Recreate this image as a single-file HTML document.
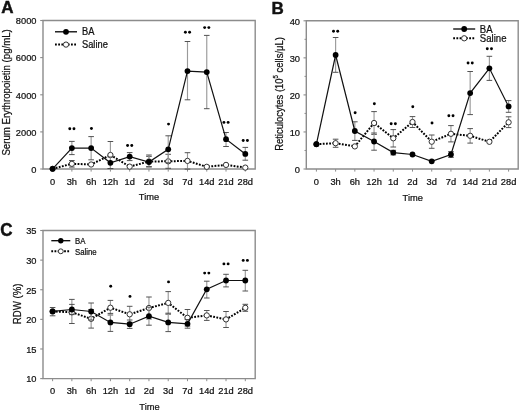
<!DOCTYPE html>
<html><head><meta charset="utf-8"><style>
html,body{margin:0;padding:0;background:#fff;}
svg{display:block;will-change:transform;}
text{font-family:"Liberation Sans", sans-serif;fill:#111;stroke:#111;stroke-width:0.22;}
</style></head><body>
<svg width="520" height="411" viewBox="0 0 520 411">
<rect width="520" height="411" fill="#fff"/>
<text transform="translate(1.30 13.35) scale(1.0 1.0)" font-size="17" font-weight="bold" style="stroke-width:0.45">A</text>
<path d="M43 20.5H255.2V169H43Z" fill="none" stroke="#8c8c8c" stroke-width="1.4"/>
<line x1="40.2" y1="169.00" x2="43" y2="169.00" stroke="#8c8c8c" stroke-width="1.1"/>
<text transform="translate(36.50 172.80) scale(1.0 1.04)" font-size="9.3" text-anchor="end">0</text>
<line x1="40.2" y1="131.90" x2="43" y2="131.90" stroke="#8c8c8c" stroke-width="1.1"/>
<text transform="translate(36.50 135.70) scale(1.0 1.04)" font-size="9.3" text-anchor="end">2000</text>
<line x1="40.2" y1="94.80" x2="43" y2="94.80" stroke="#8c8c8c" stroke-width="1.1"/>
<text transform="translate(36.50 98.60) scale(1.0 1.04)" font-size="9.3" text-anchor="end">4000</text>
<line x1="40.2" y1="57.60" x2="43" y2="57.60" stroke="#8c8c8c" stroke-width="1.1"/>
<text transform="translate(36.50 61.40) scale(1.0 1.04)" font-size="9.3" text-anchor="end">6000</text>
<line x1="40.2" y1="20.50" x2="43" y2="20.50" stroke="#8c8c8c" stroke-width="1.1"/>
<text transform="translate(36.50 24.30) scale(1.0 1.04)" font-size="9.3" text-anchor="end">8000</text>
<line x1="52.60" y1="169" x2="52.60" y2="171.6" stroke="#8c8c8c" stroke-width="1"/>
<text transform="translate(52.60 184.50) scale(1.0 1.02)" font-size="9.3" text-anchor="middle">0</text>
<line x1="71.87" y1="169" x2="71.87" y2="171.6" stroke="#8c8c8c" stroke-width="1"/>
<text transform="translate(71.87 184.50) scale(1.0 1.02)" font-size="9.3" text-anchor="middle">3h</text>
<line x1="91.14" y1="169" x2="91.14" y2="171.6" stroke="#8c8c8c" stroke-width="1"/>
<text transform="translate(91.14 184.50) scale(1.0 1.02)" font-size="9.3" text-anchor="middle">6h</text>
<line x1="110.41" y1="169" x2="110.41" y2="171.6" stroke="#8c8c8c" stroke-width="1"/>
<text transform="translate(110.41 184.50) scale(1.0 1.02)" font-size="9.3" text-anchor="middle">12h</text>
<line x1="129.68" y1="169" x2="129.68" y2="171.6" stroke="#8c8c8c" stroke-width="1"/>
<text transform="translate(129.68 184.50) scale(1.0 1.02)" font-size="9.3" text-anchor="middle">1d</text>
<line x1="148.95" y1="169" x2="148.95" y2="171.6" stroke="#8c8c8c" stroke-width="1"/>
<text transform="translate(148.95 184.50) scale(1.0 1.02)" font-size="9.3" text-anchor="middle">2d</text>
<line x1="168.22" y1="169" x2="168.22" y2="171.6" stroke="#8c8c8c" stroke-width="1"/>
<text transform="translate(168.22 184.50) scale(1.0 1.02)" font-size="9.3" text-anchor="middle">3d</text>
<line x1="187.49" y1="169" x2="187.49" y2="171.6" stroke="#8c8c8c" stroke-width="1"/>
<text transform="translate(187.49 184.50) scale(1.0 1.02)" font-size="9.3" text-anchor="middle">7d</text>
<line x1="206.76" y1="169" x2="206.76" y2="171.6" stroke="#8c8c8c" stroke-width="1"/>
<text transform="translate(206.76 184.50) scale(1.0 1.02)" font-size="9.3" text-anchor="middle">14d</text>
<line x1="226.03" y1="169" x2="226.03" y2="171.6" stroke="#8c8c8c" stroke-width="1"/>
<text transform="translate(226.03 184.50) scale(1.0 1.02)" font-size="9.3" text-anchor="middle">21d</text>
<line x1="245.30" y1="169" x2="245.30" y2="171.6" stroke="#8c8c8c" stroke-width="1"/>
<text transform="translate(245.30 184.50) scale(1.0 1.02)" font-size="9.3" text-anchor="middle">28d</text>
<text transform="translate(149.00 199.70) scale(1.0 1.02)" font-size="9.3" text-anchor="middle">Time</text>
<text transform="translate(9.80 92.40) rotate(-90) scale(1.0 1.08)" font-size="9.65" text-anchor="middle">Serum Erythropoietin (pg/mL)</text>
<path d="M71.87 160.5V167.1" stroke="#9a9a9a" stroke-width="1.15" fill="none"/>
<path d="M69.07 160.5H74.67M69.07 167.1H74.67" stroke="#4a4a4a" stroke-width="0.95" fill="none"/>
<path d="M110.41 141.5V168.5" stroke="#9a9a9a" stroke-width="1.15" fill="none"/>
<path d="M107.61 141.5H113.21M107.61 168.5H113.21" stroke="#4a4a4a" stroke-width="0.95" fill="none"/>
<path d="M148.95 156.4V166.6" stroke="#9a9a9a" stroke-width="1.15" fill="none"/>
<path d="M146.15 156.4H151.75M146.15 166.6H151.75" stroke="#4a4a4a" stroke-width="0.95" fill="none"/>
<path d="M168.22 154.3V168.3" stroke="#9a9a9a" stroke-width="1.15" fill="none"/>
<path d="M165.42 154.3H171.02M165.42 168.3H171.02" stroke="#4a4a4a" stroke-width="0.95" fill="none"/>
<path d="M187.49 152.7V169.1" stroke="#9a9a9a" stroke-width="1.15" fill="none"/>
<path d="M184.69 152.7H190.29M184.69 169.1H190.29" stroke="#4a4a4a" stroke-width="0.95" fill="none"/>
<polyline points="52.60,168.8 71.87,163.8 91.14,164.5 110.41,155.0 129.68,166.6 148.95,161.5 168.22,161.3 187.49,160.9 206.76,166.8 226.03,164.9 245.30,167.6" fill="none" stroke="#000" stroke-width="2" stroke-dasharray="1.8 1.4"/>
<circle cx="52.60" cy="168.8" r="2.65" fill="#fff" stroke="#333" stroke-width="1"/>
<circle cx="71.87" cy="163.8" r="2.65" fill="#fff" stroke="#333" stroke-width="1"/>
<circle cx="91.14" cy="164.5" r="2.65" fill="#fff" stroke="#333" stroke-width="1"/>
<circle cx="110.41" cy="155.0" r="2.65" fill="#fff" stroke="#333" stroke-width="1"/>
<circle cx="129.68" cy="166.6" r="2.65" fill="#fff" stroke="#333" stroke-width="1"/>
<circle cx="148.95" cy="161.5" r="2.65" fill="#fff" stroke="#333" stroke-width="1"/>
<circle cx="168.22" cy="161.3" r="2.65" fill="#fff" stroke="#333" stroke-width="1"/>
<circle cx="187.49" cy="160.9" r="2.65" fill="#fff" stroke="#333" stroke-width="1"/>
<circle cx="206.76" cy="166.8" r="2.65" fill="#fff" stroke="#333" stroke-width="1"/>
<circle cx="226.03" cy="164.9" r="2.65" fill="#fff" stroke="#333" stroke-width="1"/>
<circle cx="245.30" cy="167.6" r="2.65" fill="#fff" stroke="#333" stroke-width="1"/>
<path d="M71.87 141.4V154.6" stroke="#9a9a9a" stroke-width="1.15" fill="none"/>
<path d="M69.07 141.4H74.67M69.07 154.6H74.67" stroke="#4a4a4a" stroke-width="0.95" fill="none"/>
<path d="M91.14 136.6V159.8" stroke="#9a9a9a" stroke-width="1.15" fill="none"/>
<path d="M88.34 136.6H93.94M88.34 159.8H93.94" stroke="#4a4a4a" stroke-width="0.95" fill="none"/>
<path d="M110.41 157.0V168.6" stroke="#9a9a9a" stroke-width="1.15" fill="none"/>
<path d="M107.61 157.0H113.21M107.61 168.6H113.21" stroke="#4a4a4a" stroke-width="0.95" fill="none"/>
<path d="M129.68 152.6V160.6" stroke="#9a9a9a" stroke-width="1.15" fill="none"/>
<path d="M126.88 152.6H132.48M126.88 160.6H132.48" stroke="#4a4a4a" stroke-width="0.95" fill="none"/>
<path d="M148.95 155.0V167.0" stroke="#9a9a9a" stroke-width="1.15" fill="none"/>
<path d="M146.15 155.0H151.75M146.15 167.0H151.75" stroke="#4a4a4a" stroke-width="0.95" fill="none"/>
<path d="M168.22 135.8V162.8" stroke="#9a9a9a" stroke-width="1.15" fill="none"/>
<path d="M165.42 135.8H171.02M165.42 162.8H171.02" stroke="#4a4a4a" stroke-width="0.95" fill="none"/>
<path d="M187.49 41.5V99.8" stroke="#9a9a9a" stroke-width="1.15" fill="none"/>
<path d="M184.69 41.5H190.29M184.69 99.8H190.29" stroke="#4a4a4a" stroke-width="0.95" fill="none"/>
<path d="M206.76 35.4V108.7" stroke="#9a9a9a" stroke-width="1.15" fill="none"/>
<path d="M203.96 35.4H209.56M203.96 108.7H209.56" stroke="#4a4a4a" stroke-width="0.95" fill="none"/>
<path d="M226.03 132.5V146.5" stroke="#9a9a9a" stroke-width="1.15" fill="none"/>
<path d="M223.23 132.5H228.83M223.23 146.5H228.83" stroke="#4a4a4a" stroke-width="0.95" fill="none"/>
<path d="M245.30 147.4V160.2" stroke="#9a9a9a" stroke-width="1.15" fill="none"/>
<path d="M242.50 147.4H248.10M242.50 160.2H248.10" stroke="#4a4a4a" stroke-width="0.95" fill="none"/>
<polyline points="52.60,168.8 71.87,148.1 91.14,148.1 110.41,162.8 129.68,156.6 148.95,162.0 168.22,149.3 187.49,71.1 206.76,72.1 226.03,139.2 245.30,153.9" fill="none" stroke="#111" stroke-width="1.2"/>
<circle cx="52.60" cy="168.8" r="2.9" fill="#000"/>
<circle cx="71.87" cy="148.1" r="2.9" fill="#000"/>
<circle cx="91.14" cy="148.1" r="2.9" fill="#000"/>
<circle cx="110.41" cy="162.8" r="2.9" fill="#000"/>
<circle cx="129.68" cy="156.6" r="2.9" fill="#000"/>
<circle cx="148.95" cy="162.0" r="2.9" fill="#000"/>
<circle cx="168.22" cy="149.3" r="2.9" fill="#000"/>
<circle cx="187.49" cy="71.1" r="2.9" fill="#000"/>
<circle cx="206.76" cy="72.1" r="2.9" fill="#000"/>
<circle cx="226.03" cy="139.2" r="2.9" fill="#000"/>
<circle cx="245.30" cy="153.9" r="2.9" fill="#000"/>
<circle cx="69.77" cy="128.8" r="1.45" fill="#000"/><circle cx="73.97" cy="128.8" r="1.45" fill="#000"/>
<circle cx="91.44" cy="128.5" r="1.45" fill="#000"/>
<circle cx="127.58" cy="145.5" r="1.45" fill="#000"/><circle cx="131.78" cy="145.5" r="1.45" fill="#000"/>
<circle cx="168.52" cy="124.1" r="1.45" fill="#000"/>
<circle cx="185.39" cy="32.3" r="1.45" fill="#000"/><circle cx="189.59" cy="32.3" r="1.45" fill="#000"/>
<circle cx="204.66" cy="27.6" r="1.45" fill="#000"/><circle cx="208.86" cy="27.6" r="1.45" fill="#000"/>
<circle cx="223.93" cy="122.4" r="1.45" fill="#000"/><circle cx="228.13" cy="122.4" r="1.45" fill="#000"/>
<circle cx="243.20" cy="140.5" r="1.45" fill="#000"/><circle cx="247.40" cy="140.5" r="1.45" fill="#000"/>
<line x1="55" y1="31.8" x2="77" y2="31.8" stroke="#000" stroke-width="1.3"/>
<circle cx="66.0" cy="31.8" r="2.9" fill="#000"/>
<line x1="55" y1="44.6" x2="77" y2="44.6" stroke="#000" stroke-width="2" stroke-dasharray="1.8 1.4"/>
<circle cx="66.0" cy="44.6" r="2.65" fill="#fff" stroke="#333" stroke-width="1"/>
<text transform="translate(82.00 35.40) scale(1.0 1.12)" font-size="9.3">BA</text>
<text transform="translate(82.00 48.20) scale(1.0 1.12)" font-size="9.3">Saline</text>
<text transform="translate(271.50 13.80) scale(1.0 1.0)" font-size="17" font-weight="bold" style="stroke-width:0.45">B</text>
<path d="M306.3 20.8H518.2V169H306.3Z" fill="none" stroke="#8c8c8c" stroke-width="1.4"/>
<line x1="303.5" y1="169.00" x2="306.3" y2="169.00" stroke="#8c8c8c" stroke-width="1.1"/>
<text transform="translate(300.00 172.70) scale(1.0 1.0)" font-size="9.3" text-anchor="end">0</text>
<line x1="303.5" y1="131.95" x2="306.3" y2="131.95" stroke="#8c8c8c" stroke-width="1.1"/>
<text transform="translate(300.00 135.65) scale(1.0 1.0)" font-size="9.3" text-anchor="end">10</text>
<line x1="303.5" y1="94.90" x2="306.3" y2="94.90" stroke="#8c8c8c" stroke-width="1.1"/>
<text transform="translate(300.00 98.60) scale(1.0 1.0)" font-size="9.3" text-anchor="end">20</text>
<line x1="303.5" y1="57.85" x2="306.3" y2="57.85" stroke="#8c8c8c" stroke-width="1.1"/>
<text transform="translate(300.00 61.55) scale(1.0 1.0)" font-size="9.3" text-anchor="end">30</text>
<line x1="303.5" y1="20.80" x2="306.3" y2="20.80" stroke="#8c8c8c" stroke-width="1.1"/>
<text transform="translate(300.00 24.50) scale(1.0 1.0)" font-size="9.3" text-anchor="end">40</text>
<line x1="304.5" y1="150.47" x2="306.3" y2="150.47" stroke="#8c8c8c" stroke-width="1"/>
<line x1="304.5" y1="113.42" x2="306.3" y2="113.42" stroke="#8c8c8c" stroke-width="1"/>
<line x1="304.5" y1="76.38" x2="306.3" y2="76.38" stroke="#8c8c8c" stroke-width="1"/>
<line x1="304.5" y1="39.32" x2="306.3" y2="39.32" stroke="#8c8c8c" stroke-width="1"/>
<line x1="316.40" y1="169" x2="316.40" y2="171.6" stroke="#8c8c8c" stroke-width="1"/>
<text transform="translate(316.40 185.00) scale(1.0 1.02)" font-size="9.3" text-anchor="middle">0</text>
<line x1="335.62" y1="169" x2="335.62" y2="171.6" stroke="#8c8c8c" stroke-width="1"/>
<text transform="translate(335.62 185.00) scale(1.0 1.02)" font-size="9.3" text-anchor="middle">3h</text>
<line x1="354.84" y1="169" x2="354.84" y2="171.6" stroke="#8c8c8c" stroke-width="1"/>
<text transform="translate(354.84 185.00) scale(1.0 1.02)" font-size="9.3" text-anchor="middle">6h</text>
<line x1="374.06" y1="169" x2="374.06" y2="171.6" stroke="#8c8c8c" stroke-width="1"/>
<text transform="translate(374.06 185.00) scale(1.0 1.02)" font-size="9.3" text-anchor="middle">12h</text>
<line x1="393.28" y1="169" x2="393.28" y2="171.6" stroke="#8c8c8c" stroke-width="1"/>
<text transform="translate(393.28 185.00) scale(1.0 1.02)" font-size="9.3" text-anchor="middle">1d</text>
<line x1="412.50" y1="169" x2="412.50" y2="171.6" stroke="#8c8c8c" stroke-width="1"/>
<text transform="translate(412.50 185.00) scale(1.0 1.02)" font-size="9.3" text-anchor="middle">2d</text>
<line x1="431.72" y1="169" x2="431.72" y2="171.6" stroke="#8c8c8c" stroke-width="1"/>
<text transform="translate(431.72 185.00) scale(1.0 1.02)" font-size="9.3" text-anchor="middle">3d</text>
<line x1="450.94" y1="169" x2="450.94" y2="171.6" stroke="#8c8c8c" stroke-width="1"/>
<text transform="translate(450.94 185.00) scale(1.0 1.02)" font-size="9.3" text-anchor="middle">7d</text>
<line x1="470.16" y1="169" x2="470.16" y2="171.6" stroke="#8c8c8c" stroke-width="1"/>
<text transform="translate(470.16 185.00) scale(1.0 1.02)" font-size="9.3" text-anchor="middle">14d</text>
<line x1="489.38" y1="169" x2="489.38" y2="171.6" stroke="#8c8c8c" stroke-width="1"/>
<text transform="translate(489.38 185.00) scale(1.0 1.02)" font-size="9.3" text-anchor="middle">21d</text>
<line x1="508.60" y1="169" x2="508.60" y2="171.6" stroke="#8c8c8c" stroke-width="1"/>
<text transform="translate(508.60 185.00) scale(1.0 1.02)" font-size="9.3" text-anchor="middle">28d</text>
<text transform="translate(412.70 200.60) scale(1.0 1.02)" font-size="9.3" text-anchor="middle">Time</text>
<text transform="translate(282.80 94.00) rotate(-90) scale(1.0 1.08)" font-size="9.45" text-anchor="middle">Reticulocytes (10<tspan font-size="6" dy="-4.6">5</tspan><tspan dy="4.6"> cells/μL)</tspan></text>
<path d="M335.62 139.2V147.3" stroke="#9a9a9a" stroke-width="1.15" fill="none"/>
<path d="M332.82 139.2H338.42M332.82 147.3H338.42" stroke="#4a4a4a" stroke-width="0.95" fill="none"/>
<path d="M374.06 111.6V134.4" stroke="#9a9a9a" stroke-width="1.15" fill="none"/>
<path d="M371.26 111.6H376.86M371.26 134.4H376.86" stroke="#4a4a4a" stroke-width="0.95" fill="none"/>
<path d="M393.28 129.6V147.0" stroke="#9a9a9a" stroke-width="1.15" fill="none"/>
<path d="M390.48 129.6H396.08M390.48 147.0H396.08" stroke="#4a4a4a" stroke-width="0.95" fill="none"/>
<path d="M412.50 116.6V127.5" stroke="#9a9a9a" stroke-width="1.15" fill="none"/>
<path d="M409.70 116.6H415.30M409.70 127.5H415.30" stroke="#4a4a4a" stroke-width="0.95" fill="none"/>
<path d="M431.72 135.0V148.3" stroke="#9a9a9a" stroke-width="1.15" fill="none"/>
<path d="M428.92 135.0H434.52M428.92 148.3H434.52" stroke="#4a4a4a" stroke-width="0.95" fill="none"/>
<path d="M450.94 125.6V141.9" stroke="#9a9a9a" stroke-width="1.15" fill="none"/>
<path d="M448.14 125.6H453.74M448.14 141.9H453.74" stroke="#4a4a4a" stroke-width="0.95" fill="none"/>
<path d="M470.16 128.6V143.1" stroke="#9a9a9a" stroke-width="1.15" fill="none"/>
<path d="M467.36 128.6H472.96M467.36 143.1H472.96" stroke="#4a4a4a" stroke-width="0.95" fill="none"/>
<path d="M508.60 116.8V127.6" stroke="#9a9a9a" stroke-width="1.15" fill="none"/>
<path d="M505.80 116.8H511.40M505.80 127.6H511.40" stroke="#4a4a4a" stroke-width="0.95" fill="none"/>
<polyline points="316.40,144.2 335.62,143.2 354.84,146.4 374.06,123.0 393.28,138.3 412.50,122.0 431.72,141.7 450.94,133.8 470.16,135.8 489.38,141.8 508.60,122.3" fill="none" stroke="#000" stroke-width="2" stroke-dasharray="1.8 1.4"/>
<circle cx="316.40" cy="144.2" r="2.65" fill="#fff" stroke="#333" stroke-width="1"/>
<circle cx="335.62" cy="143.2" r="2.65" fill="#fff" stroke="#333" stroke-width="1"/>
<circle cx="354.84" cy="146.4" r="2.65" fill="#fff" stroke="#333" stroke-width="1"/>
<circle cx="374.06" cy="123.0" r="2.65" fill="#fff" stroke="#333" stroke-width="1"/>
<circle cx="393.28" cy="138.3" r="2.65" fill="#fff" stroke="#333" stroke-width="1"/>
<circle cx="412.50" cy="122.0" r="2.65" fill="#fff" stroke="#333" stroke-width="1"/>
<circle cx="431.72" cy="141.7" r="2.65" fill="#fff" stroke="#333" stroke-width="1"/>
<circle cx="450.94" cy="133.8" r="2.65" fill="#fff" stroke="#333" stroke-width="1"/>
<circle cx="470.16" cy="135.8" r="2.65" fill="#fff" stroke="#333" stroke-width="1"/>
<circle cx="489.38" cy="141.8" r="2.65" fill="#fff" stroke="#333" stroke-width="1"/>
<circle cx="508.60" cy="122.3" r="2.65" fill="#fff" stroke="#333" stroke-width="1"/>
<path d="M335.62 37.5V72.3" stroke="#9a9a9a" stroke-width="1.15" fill="none"/>
<path d="M332.82 37.5H338.42M332.82 72.3H338.42" stroke="#4a4a4a" stroke-width="0.95" fill="none"/>
<path d="M354.84 121.8V140.4" stroke="#9a9a9a" stroke-width="1.15" fill="none"/>
<path d="M352.04 121.8H357.64M352.04 140.4H357.64" stroke="#4a4a4a" stroke-width="0.95" fill="none"/>
<path d="M374.06 133.0V150.2" stroke="#9a9a9a" stroke-width="1.15" fill="none"/>
<path d="M371.26 133.0H376.86M371.26 150.2H376.86" stroke="#4a4a4a" stroke-width="0.95" fill="none"/>
<path d="M393.28 150.3V154.9" stroke="#9a9a9a" stroke-width="1.15" fill="none"/>
<path d="M390.48 150.3H396.08M390.48 154.9H396.08" stroke="#4a4a4a" stroke-width="0.95" fill="none"/>
<path d="M450.94 151.6V157.4" stroke="#9a9a9a" stroke-width="1.15" fill="none"/>
<path d="M448.14 151.6H453.74M448.14 157.4H453.74" stroke="#4a4a4a" stroke-width="0.95" fill="none"/>
<path d="M470.16 71.5V114.6" stroke="#9a9a9a" stroke-width="1.15" fill="none"/>
<path d="M467.36 71.5H472.96M467.36 114.6H472.96" stroke="#4a4a4a" stroke-width="0.95" fill="none"/>
<path d="M489.38 56.3V80.4" stroke="#9a9a9a" stroke-width="1.15" fill="none"/>
<path d="M486.58 56.3H492.18M486.58 80.4H492.18" stroke="#4a4a4a" stroke-width="0.95" fill="none"/>
<path d="M508.60 100.6V112.3" stroke="#9a9a9a" stroke-width="1.15" fill="none"/>
<path d="M505.80 100.6H511.40M505.80 112.3H511.40" stroke="#4a4a4a" stroke-width="0.95" fill="none"/>
<polyline points="316.40,144.2 335.62,55.0 354.84,131.0 374.06,141.5 393.28,152.6 412.50,154.5 431.72,161.3 450.94,154.5 470.16,93.1 489.38,68.3 508.60,106.4" fill="none" stroke="#111" stroke-width="1.2"/>
<circle cx="316.40" cy="144.2" r="2.9" fill="#000"/>
<circle cx="335.62" cy="55.0" r="2.9" fill="#000"/>
<circle cx="354.84" cy="131.0" r="2.9" fill="#000"/>
<circle cx="374.06" cy="141.5" r="2.9" fill="#000"/>
<circle cx="393.28" cy="152.6" r="2.9" fill="#000"/>
<circle cx="412.50" cy="154.5" r="2.9" fill="#000"/>
<circle cx="431.72" cy="161.3" r="2.9" fill="#000"/>
<circle cx="450.94" cy="154.5" r="2.9" fill="#000"/>
<circle cx="470.16" cy="93.1" r="2.9" fill="#000"/>
<circle cx="489.38" cy="68.3" r="2.9" fill="#000"/>
<circle cx="508.60" cy="106.4" r="2.9" fill="#000"/>
<circle cx="333.52" cy="31.3" r="1.45" fill="#000"/><circle cx="337.72" cy="31.3" r="1.45" fill="#000"/>
<circle cx="355.14" cy="112.7" r="1.45" fill="#000"/>
<circle cx="374.36" cy="103.8" r="1.45" fill="#000"/>
<circle cx="391.18" cy="123.7" r="1.45" fill="#000"/><circle cx="395.38" cy="123.7" r="1.45" fill="#000"/>
<circle cx="412.80" cy="106.8" r="1.45" fill="#000"/>
<circle cx="432.02" cy="123.0" r="1.45" fill="#000"/>
<circle cx="448.84" cy="115.8" r="1.45" fill="#000"/><circle cx="453.04" cy="115.8" r="1.45" fill="#000"/>
<circle cx="468.06" cy="63.0" r="1.45" fill="#000"/><circle cx="472.26" cy="63.0" r="1.45" fill="#000"/>
<circle cx="487.28" cy="48.7" r="1.45" fill="#000"/><circle cx="491.48" cy="48.7" r="1.45" fill="#000"/>
<line x1="453.2" y1="29" x2="475.2" y2="29" stroke="#000" stroke-width="1.3"/>
<circle cx="464.2" cy="29" r="2.9" fill="#000"/>
<line x1="453.2" y1="38.3" x2="475.2" y2="38.3" stroke="#000" stroke-width="2" stroke-dasharray="1.8 1.4"/>
<circle cx="464.2" cy="38.3" r="2.65" fill="#fff" stroke="#333" stroke-width="1"/>
<text transform="translate(479.80 32.60) scale(1.0 1.12)" font-size="9.6">BA</text>
<text transform="translate(479.80 41.90) scale(1.0 1.12)" font-size="9.6">Saline</text>
<text transform="translate(0.30 235.60) scale(1.0 1.05)" font-size="17" font-weight="bold" style="stroke-width:0.45">C</text>
<path d="M43 230.5H255.2V378.6H43Z" fill="none" stroke="#8c8c8c" stroke-width="1.4"/>
<line x1="40.2" y1="378.60" x2="43" y2="378.60" stroke="#8c8c8c" stroke-width="1.1"/>
<text transform="translate(36.50 382.40) scale(1.0 1.04)" font-size="9.3" text-anchor="end">10</text>
<line x1="40.2" y1="348.98" x2="43" y2="348.98" stroke="#8c8c8c" stroke-width="1.1"/>
<text transform="translate(36.50 352.78) scale(1.0 1.04)" font-size="9.3" text-anchor="end">15</text>
<line x1="40.2" y1="319.36" x2="43" y2="319.36" stroke="#8c8c8c" stroke-width="1.1"/>
<text transform="translate(36.50 323.16) scale(1.0 1.04)" font-size="9.3" text-anchor="end">20</text>
<line x1="40.2" y1="289.74" x2="43" y2="289.74" stroke="#8c8c8c" stroke-width="1.1"/>
<text transform="translate(36.50 293.54) scale(1.0 1.04)" font-size="9.3" text-anchor="end">25</text>
<line x1="40.2" y1="260.12" x2="43" y2="260.12" stroke="#8c8c8c" stroke-width="1.1"/>
<text transform="translate(36.50 263.92) scale(1.0 1.04)" font-size="9.3" text-anchor="end">30</text>
<line x1="40.2" y1="230.50" x2="43" y2="230.50" stroke="#8c8c8c" stroke-width="1.1"/>
<text transform="translate(36.50 234.30) scale(1.0 1.04)" font-size="9.3" text-anchor="end">35</text>
<line x1="52.60" y1="378.6" x2="52.60" y2="381.20000000000005" stroke="#8c8c8c" stroke-width="1"/>
<text transform="translate(52.60 394.20) scale(1.0 1.02)" font-size="9.3" text-anchor="middle">0</text>
<line x1="71.87" y1="378.6" x2="71.87" y2="381.20000000000005" stroke="#8c8c8c" stroke-width="1"/>
<text transform="translate(71.87 394.20) scale(1.0 1.02)" font-size="9.3" text-anchor="middle">3h</text>
<line x1="91.14" y1="378.6" x2="91.14" y2="381.20000000000005" stroke="#8c8c8c" stroke-width="1"/>
<text transform="translate(91.14 394.20) scale(1.0 1.02)" font-size="9.3" text-anchor="middle">6h</text>
<line x1="110.41" y1="378.6" x2="110.41" y2="381.20000000000005" stroke="#8c8c8c" stroke-width="1"/>
<text transform="translate(110.41 394.20) scale(1.0 1.02)" font-size="9.3" text-anchor="middle">12h</text>
<line x1="129.68" y1="378.6" x2="129.68" y2="381.20000000000005" stroke="#8c8c8c" stroke-width="1"/>
<text transform="translate(129.68 394.20) scale(1.0 1.02)" font-size="9.3" text-anchor="middle">1d</text>
<line x1="148.95" y1="378.6" x2="148.95" y2="381.20000000000005" stroke="#8c8c8c" stroke-width="1"/>
<text transform="translate(148.95 394.20) scale(1.0 1.02)" font-size="9.3" text-anchor="middle">2d</text>
<line x1="168.22" y1="378.6" x2="168.22" y2="381.20000000000005" stroke="#8c8c8c" stroke-width="1"/>
<text transform="translate(168.22 394.20) scale(1.0 1.02)" font-size="9.3" text-anchor="middle">3d</text>
<line x1="187.49" y1="378.6" x2="187.49" y2="381.20000000000005" stroke="#8c8c8c" stroke-width="1"/>
<text transform="translate(187.49 394.20) scale(1.0 1.02)" font-size="9.3" text-anchor="middle">7d</text>
<line x1="206.76" y1="378.6" x2="206.76" y2="381.20000000000005" stroke="#8c8c8c" stroke-width="1"/>
<text transform="translate(206.76 394.20) scale(1.0 1.02)" font-size="9.3" text-anchor="middle">14d</text>
<line x1="226.03" y1="378.6" x2="226.03" y2="381.20000000000005" stroke="#8c8c8c" stroke-width="1"/>
<text transform="translate(226.03 394.20) scale(1.0 1.02)" font-size="9.3" text-anchor="middle">21d</text>
<line x1="245.30" y1="378.6" x2="245.30" y2="381.20000000000005" stroke="#8c8c8c" stroke-width="1"/>
<text transform="translate(245.30 394.20) scale(1.0 1.02)" font-size="9.3" text-anchor="middle">28d</text>
<text transform="translate(149.50 409.60) scale(1.0 1.02)" font-size="9.3" text-anchor="middle">Time</text>
<text transform="translate(20.60 303.90) rotate(-90) scale(1.0 1.08)" font-size="9.65" text-anchor="middle">RDW (%)</text>
<path d="M71.87 299.4V323.5" stroke="#9a9a9a" stroke-width="1.15" fill="none"/>
<path d="M69.07 299.4H74.67M69.07 323.5H74.67" stroke="#4a4a4a" stroke-width="0.95" fill="none"/>
<path d="M91.14 309.5V328.1" stroke="#9a9a9a" stroke-width="1.15" fill="none"/>
<path d="M88.34 309.5H93.94M88.34 328.1H93.94" stroke="#4a4a4a" stroke-width="0.95" fill="none"/>
<path d="M110.41 300.4V315.0" stroke="#9a9a9a" stroke-width="1.15" fill="none"/>
<path d="M107.61 300.4H113.21M107.61 315.0H113.21" stroke="#4a4a4a" stroke-width="0.95" fill="none"/>
<path d="M129.68 306.3V322.3" stroke="#9a9a9a" stroke-width="1.15" fill="none"/>
<path d="M126.88 306.3H132.48M126.88 322.3H132.48" stroke="#4a4a4a" stroke-width="0.95" fill="none"/>
<path d="M148.95 297.0V319.0" stroke="#9a9a9a" stroke-width="1.15" fill="none"/>
<path d="M146.15 297.0H151.75M146.15 319.0H151.75" stroke="#4a4a4a" stroke-width="0.95" fill="none"/>
<path d="M168.22 291.6V314.2" stroke="#9a9a9a" stroke-width="1.15" fill="none"/>
<path d="M165.42 291.6H171.02M165.42 314.2H171.02" stroke="#4a4a4a" stroke-width="0.95" fill="none"/>
<path d="M187.49 309.5V326.1" stroke="#9a9a9a" stroke-width="1.15" fill="none"/>
<path d="M184.69 309.5H190.29M184.69 326.1H190.29" stroke="#4a4a4a" stroke-width="0.95" fill="none"/>
<path d="M206.76 310.5V320.4" stroke="#9a9a9a" stroke-width="1.15" fill="none"/>
<path d="M203.96 310.5H209.56M203.96 320.4H209.56" stroke="#4a4a4a" stroke-width="0.95" fill="none"/>
<path d="M226.03 311.5V327.5" stroke="#9a9a9a" stroke-width="1.15" fill="none"/>
<path d="M223.23 311.5H228.83M223.23 327.5H228.83" stroke="#4a4a4a" stroke-width="0.95" fill="none"/>
<path d="M245.30 304.3V311.3" stroke="#9a9a9a" stroke-width="1.15" fill="none"/>
<path d="M242.50 304.3H248.10M242.50 311.3H248.10" stroke="#4a4a4a" stroke-width="0.95" fill="none"/>
<polyline points="52.60,311.4 71.87,312.3 91.14,318.8 110.41,307.7 129.68,314.3 148.95,308.0 168.22,302.9 187.49,317.8 206.76,315.4 226.03,319.4 245.30,307.8" fill="none" stroke="#000" stroke-width="2" stroke-dasharray="1.8 1.4"/>
<circle cx="52.60" cy="311.4" r="2.65" fill="#fff" stroke="#333" stroke-width="1"/>
<circle cx="71.87" cy="312.3" r="2.65" fill="#fff" stroke="#333" stroke-width="1"/>
<circle cx="91.14" cy="318.8" r="2.65" fill="#fff" stroke="#333" stroke-width="1"/>
<circle cx="110.41" cy="307.7" r="2.65" fill="#fff" stroke="#333" stroke-width="1"/>
<circle cx="129.68" cy="314.3" r="2.65" fill="#fff" stroke="#333" stroke-width="1"/>
<circle cx="148.95" cy="308.0" r="2.65" fill="#fff" stroke="#333" stroke-width="1"/>
<circle cx="168.22" cy="302.9" r="2.65" fill="#fff" stroke="#333" stroke-width="1"/>
<circle cx="187.49" cy="317.8" r="2.65" fill="#fff" stroke="#333" stroke-width="1"/>
<circle cx="206.76" cy="315.4" r="2.65" fill="#fff" stroke="#333" stroke-width="1"/>
<circle cx="226.03" cy="319.4" r="2.65" fill="#fff" stroke="#333" stroke-width="1"/>
<circle cx="245.30" cy="307.8" r="2.65" fill="#fff" stroke="#333" stroke-width="1"/>
<path d="M52.60 307.5V315.8" stroke="#9a9a9a" stroke-width="1.15" fill="none"/>
<path d="M49.80 307.5H55.40M49.80 315.8H55.40" stroke="#4a4a4a" stroke-width="0.95" fill="none"/>
<path d="M71.87 304.4V314.6" stroke="#9a9a9a" stroke-width="1.15" fill="none"/>
<path d="M69.07 304.4H74.67M69.07 314.6H74.67" stroke="#4a4a4a" stroke-width="0.95" fill="none"/>
<path d="M91.14 303.0V320.0" stroke="#9a9a9a" stroke-width="1.15" fill="none"/>
<path d="M88.34 303.0H93.94M88.34 320.0H93.94" stroke="#4a4a4a" stroke-width="0.95" fill="none"/>
<path d="M110.41 313.4V331.4" stroke="#9a9a9a" stroke-width="1.15" fill="none"/>
<path d="M107.61 313.4H113.21M107.61 331.4H113.21" stroke="#4a4a4a" stroke-width="0.95" fill="none"/>
<path d="M129.68 320.0V328.4" stroke="#9a9a9a" stroke-width="1.15" fill="none"/>
<path d="M126.88 320.0H132.48M126.88 328.4H132.48" stroke="#4a4a4a" stroke-width="0.95" fill="none"/>
<path d="M148.95 307.2V325.2" stroke="#9a9a9a" stroke-width="1.15" fill="none"/>
<path d="M146.15 307.2H151.75M146.15 325.2H151.75" stroke="#4a4a4a" stroke-width="0.95" fill="none"/>
<path d="M168.22 313.2V331.6" stroke="#9a9a9a" stroke-width="1.15" fill="none"/>
<path d="M165.42 313.2H171.02M165.42 331.6H171.02" stroke="#4a4a4a" stroke-width="0.95" fill="none"/>
<path d="M187.49 319.5V328.2" stroke="#9a9a9a" stroke-width="1.15" fill="none"/>
<path d="M184.69 319.5H190.29M184.69 328.2H190.29" stroke="#4a4a4a" stroke-width="0.95" fill="none"/>
<path d="M206.76 281.2V298.0" stroke="#9a9a9a" stroke-width="1.15" fill="none"/>
<path d="M203.96 281.2H209.56M203.96 298.0H209.56" stroke="#4a4a4a" stroke-width="0.95" fill="none"/>
<path d="M226.03 274.3V286.9" stroke="#9a9a9a" stroke-width="1.15" fill="none"/>
<path d="M223.23 274.3H228.83M223.23 286.9H228.83" stroke="#4a4a4a" stroke-width="0.95" fill="none"/>
<path d="M245.30 270.3V291.0" stroke="#9a9a9a" stroke-width="1.15" fill="none"/>
<path d="M242.50 270.3H248.10M242.50 291.0H248.10" stroke="#4a4a4a" stroke-width="0.95" fill="none"/>
<polyline points="52.60,311.4 71.87,309.5 91.14,311.5 110.41,322.4 129.68,324.2 148.95,316.2 168.22,322.4 187.49,323.8 206.76,289.3 226.03,280.5 245.30,280.5" fill="none" stroke="#111" stroke-width="1.2"/>
<circle cx="52.60" cy="311.4" r="2.9" fill="#000"/>
<circle cx="71.87" cy="309.5" r="2.9" fill="#000"/>
<circle cx="91.14" cy="311.5" r="2.9" fill="#000"/>
<circle cx="110.41" cy="322.4" r="2.9" fill="#000"/>
<circle cx="129.68" cy="324.2" r="2.9" fill="#000"/>
<circle cx="148.95" cy="316.2" r="2.9" fill="#000"/>
<circle cx="168.22" cy="322.4" r="2.9" fill="#000"/>
<circle cx="187.49" cy="323.8" r="2.9" fill="#000"/>
<circle cx="206.76" cy="289.3" r="2.9" fill="#000"/>
<circle cx="226.03" cy="280.5" r="2.9" fill="#000"/>
<circle cx="245.30" cy="280.5" r="2.9" fill="#000"/>
<circle cx="110.71" cy="286.2" r="1.45" fill="#000"/>
<circle cx="129.98" cy="296.4" r="1.45" fill="#000"/>
<circle cx="168.52" cy="281.9" r="1.45" fill="#000"/>
<circle cx="204.66" cy="273.1" r="1.45" fill="#000"/><circle cx="208.86" cy="273.1" r="1.45" fill="#000"/>
<circle cx="223.93" cy="263.9" r="1.45" fill="#000"/><circle cx="228.13" cy="263.9" r="1.45" fill="#000"/>
<circle cx="243.20" cy="260.4" r="1.45" fill="#000"/><circle cx="247.40" cy="260.4" r="1.45" fill="#000"/>
<line x1="51.3" y1="240.7" x2="70.3" y2="240.7" stroke="#000" stroke-width="1.3"/>
<circle cx="60.8" cy="240.7" r="2.7" fill="#000"/>
<line x1="51.3" y1="251.3" x2="70.3" y2="251.3" stroke="#000" stroke-width="2" stroke-dasharray="1.8 1.4"/>
<circle cx="60.8" cy="251.3" r="2.45" fill="#fff" stroke="#333" stroke-width="1"/>
<text transform="translate(75.00 244.30) scale(1.0 1.12)" font-size="7.8">BA</text>
<text transform="translate(75.00 254.90) scale(1.0 1.12)" font-size="7.8">Saline</text>
</svg>
</body></html>
